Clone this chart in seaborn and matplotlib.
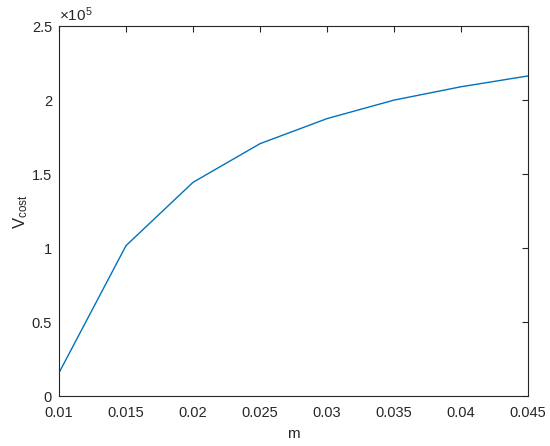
import numpy as np
import pandas as pd
import seaborn as sns
import matplotlib
matplotlib.use("Agg")
import matplotlib.pyplot as plt
from matplotlib.ticker import FuncFormatter

# values
m_values = [0.01, 0.015, 0.02, 0.025, 0.03, 0.035, 0.04, 0.045]
v_cost = [16000, 101800, 144500, 170600, 187500, 200000, 209000, 216300]

df = pd.DataFrame({'m': m_values, 'V_cost': v_cost})

sns.set_style("white")
plt.rcParams['font.family'] = ['Liberation Sans', 'DejaVu Sans']
plt.rcParams['mathtext.fontset'] = 'custom'
plt.rcParams['mathtext.rm'] = 'Liberation Sans'
plt.rcParams['mathtext.it'] = 'Liberation Sans'

fig = plt.figure(figsize=(5.5, 4.46), dpi=100)
ax = fig.add_axes([0.1073, 0.111, 0.8527, 0.8307])

sns.lineplot(x='m', y='V_cost', data=df, color='#0072BD', linewidth=1.0, ax=ax)

ax.set_xlim(0.01, 0.045)
ax.set_ylim(0, 2.5e5)
ax.set_xticks(m_values)
ax.set_yticks([0, 0.5e5, 1e5, 1.5e5, 2e5, 2.5e5])
ax.xaxis.set_major_formatter(FuncFormatter(lambda v, p: '%g' % round(v, 4)))
ax.yaxis.set_major_formatter(FuncFormatter(lambda v, p: '%g' % (v / 1e5)))

for s in ax.spines.values():
    s.set_color('#262626')
    s.set_linewidth(0.8)
ax.tick_params(direction='in', length=4, width=0.8, color='#262626',
               labelsize=10.5, labelcolor='#262626', top=True, right=True)
ax.tick_params(axis='x', pad=7)
ax.tick_params(axis='y', pad=5)

ax.set_xlabel('m', fontsize=11, color='#262626', labelpad=5)
ax.set_ylabel(r'$\mathrm{V}_{\mathrm{cost}}$', fontsize=12, color='#262626', labelpad=1)
ax.text(0.0, 1.005, r'$\times10^{5}$', transform=ax.transAxes, fontsize=11,
        color='#262626', ha='left', va='bottom')

fig.savefig('out.png', dpi=100)
